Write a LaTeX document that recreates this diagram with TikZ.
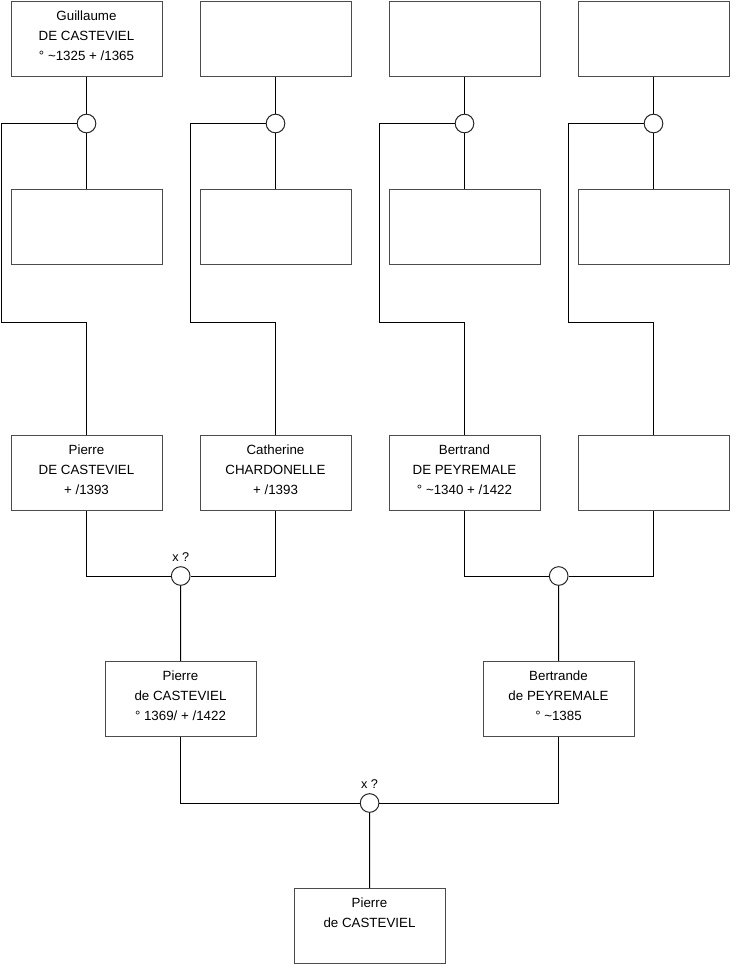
\documentclass[tikz,border=0pt]{standalone}
\usepackage{fontspec}
\setmainfont{Liberation Sans}
\tikzset{
  pers/.style={draw=black!70,line width=0.75pt,minimum width=113.25pt,minimum height=56.25pt,inner sep=0pt,align=center,font=\fontsize{10}{15}\selectfont},
  mar/.style={circle,draw=black!85,fill=white,line width=0.75pt,minimum size=14pt,inner sep=0pt},
  lien/.style={draw=black,line width=0.75pt},
  note/.style={font=\fontsize{9.5}{11}\selectfont,inner sep=0pt}
}
\begin{document}
\begin{tikzpicture}[x=0.75pt,y=-0.75pt]
\useasboundingbox (0,0) rectangle (740,975);
\node[pers] (g1) at (86.5,38.5) {Guillaume\\DE CASTEVIEL\\° \textasciitilde1325 + /1365\\[-10.5pt]};
\node[pers] (g2) at (275.5,38.5) {};
\node[pers] (g3) at (464.5,38.5) {};
\node[pers] (g4) at (653.5,38.5) {};
\node[mar] (m1) at (86.5,123.5) {};
\node[mar] (m2) at (275.5,123.5) {};
\node[mar] (m3) at (464.5,123.5) {};
\node[mar] (m4) at (653.5,123.5) {};
\node[pers] (f1) at (86.5,227) {};
\node[pers] (f2) at (275.5,227) {};
\node[pers] (f3) at (464.5,227) {};
\node[pers] (f4) at (653.5,227) {};
\node[pers] (p1) at (86.5,473) {Pierre\\DE CASTEVIEL\\+ /1393\\[-10.5pt]};
\node[pers] (p2) at (275.5,473) {Catherine\\CHARDONELLE\\+ /1393\\[-10.5pt]};
\node[pers] (p3) at (464.5,473) {Bertrand\\DE PEYREMALE\\° \textasciitilde1340 + /1422\\[-10.5pt]};
\node[pers] (p4) at (653.5,473) {};
\node[mar] (mp12) at (180.7,576) {};
\node[mar] (mp34) at (558.7,576) {};
\node[note] at (180.7,557) {x ?};
\node[pers] (c1) at (180.5,699) {Pierre\\de CASTEVIEL\\° 1369/ + /1422\\[-10.5pt]};
\node[pers] (c2) at (558.5,699) {Bertrande\\de PEYREMALE\\° \textasciitilde1385\\[-10.5pt]};
\node[mar] (mc) at (369.6,803) {};
\node[note] at (369.6,784) {x ?};
\node[pers] (r) at (369.5,926) {Pierre\\de CASTEVIEL\\\strut\\[-10.5pt]};
\coordinate (k1) at (1.5,322);
\coordinate (k2) at (190.5,322);
\coordinate (k3) at (379.5,322);
\coordinate (k4) at (568.5,322);
\foreach \i in {1,2,3,4}{
  \draw[lien] (g\i.south) -- (m\i.north);
  \draw[lien] (m\i.south) -- (f\i.north);
  \draw[lien] (m\i.west) -| (k\i) -| (p\i.north);
}
\draw[lien] (p1.south) |- (mp12.west);
\draw[lien] (p2.south) |- (mp12.east);
\draw[lien] (mp12.south) -- (c1.north);
\draw[lien] (p3.south) |- (mp34.west);
\draw[lien] (p4.south) |- (mp34.east);
\draw[lien] (mp34.south) -- (c2.north);
\draw[lien] (c1.south) |- (mc.west);
\draw[lien] (c2.south) |- (mc.east);
\draw[lien] (mc.south) -- (r.north);
\end{tikzpicture}
\end{document}
